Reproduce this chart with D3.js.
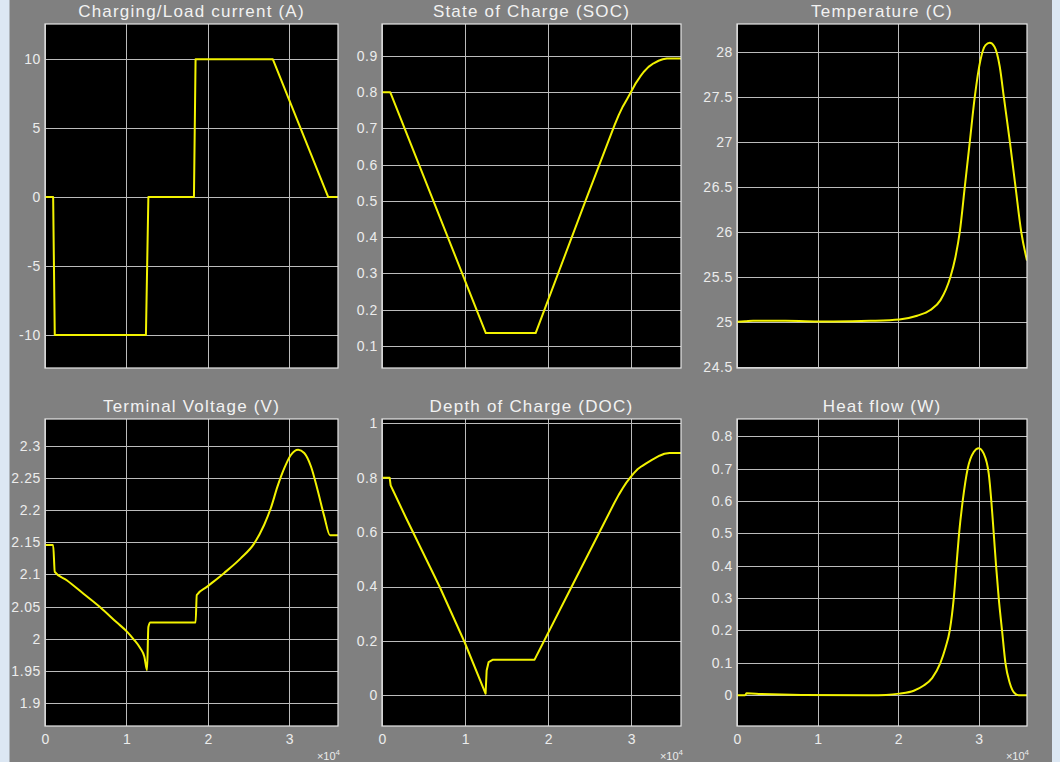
<!DOCTYPE html>
<html><head><meta charset="utf-8">
<script src="https://cdn.jsdelivr.net/npm/d3@7"></script>
<style>
html,body{margin:0;padding:0;background:#808080;overflow:hidden;}
svg{display:block;}
text{font-family:"Liberation Sans",Arial,Helvetica,sans-serif;}
</style></head><body>
<svg id="c" width="1060" height="762"></svg>
<script>
// ---- data (time in seconds) ----
const xTicks = [0, 10000, 20000, 30000];
const xTickLabels = ["0", "1", "2", "3"];
const xDomain = [0, 36000];

const titles = ["Charging/Load current (A)", "State of Charge (SOC)", "Temperature (C)",
                "Terminal Voltage (V)", "Depth of Charge (DOC)", "Heat flow (W)"];

const currentT = [0, 1000, 1200, 12400, 12700, 18300, 18500, 28000, 34800, 36000];
const currentA = [0, 0, -10, -10, 0, 0, 10, 10, 0, 0];
const currentTicks = [-10, -5, 0, 5, 10];
const currentLabels = ["-10", "-5", "0", "5", "10"];

const socT = [0, 1000, 12500, 18500, 24500, 28000, 28500, 29000, 29500, 29960, 30500, 31080, 31500,
              32090, 32700, 33300, 33800, 34300, 36000];
const socV = [0.8, 0.8, 0.135, 0.135, 0.5, 0.709, 0.737, 0.761, 0.781, 0.8, 0.823, 0.843, 0.856,
              0.870, 0.880, 0.887, 0.891, 0.893, 0.893];
const socTicks = [0.1, 0.2, 0.3, 0.4, 0.5, 0.6, 0.7, 0.8, 0.9];
const socLabels = ["0.1", "0.2", "0.3", "0.4", "0.5", "0.6", "0.7", "0.8", "0.9"];

const tempT = [0, 1000, 2000, 6000, 12000, 16560, 20160, 22360, 24010, 25260, 26500, 27120, 27660,
               28280, 28900, 29520, 30220, 30850, 31380, 31960, 32620, 33120, 33870, 34570, 35280, 36000];
const tempV = [25.0, 25.005, 25.012, 25.01, 25.003, 25.01, 25.026, 25.067, 25.13, 25.24, 25.5, 25.72, 26.0,
               26.5, 27.0, 27.5, 27.907, 28.074, 28.1, 28.056, 27.833, 27.5, 27.0, 26.5, 26.0, 25.68];
const tempTicks = [24.5, 25, 25.5, 26, 26.5, 27, 27.5, 28];
const tempLabels = ["24.5", "25", "25.5", "26", "26.5", "27", "27.5", "28"];

const voltT = [0, 1000, 1200, 2670, 4730, 6780, 8840, 10070, 10890, 11710, 12210, 12540, 12700, 12950,
               18500, 18650, 19930, 21990, 24040, 25690, 26920, 27740, 28570, 29390, 30210, 31110,
               31850, 32680, 33500, 34320, 35020, 36000];
const voltV = [2.146, 2.146, 2.104, 2.091, 2.070, 2.049, 2.025, 2.011, 1.999, 1.985, 1.972, 1.951, 2.018, 2.025,
               2.025, 2.068, 2.081, 2.102, 2.125, 2.148, 2.177, 2.203, 2.237, 2.265, 2.286, 2.294,
               2.289, 2.268, 2.231, 2.190, 2.161, 2.161];
const voltTicks = [1.9, 1.95, 2, 2.05, 2.1, 2.15, 2.2, 2.25, 2.3];
const voltLabels = ["1.9", "1.95", "2", "2.05", "2.1", "2.15", "2.2", "2.25", "2.3"];

const docT = [0, 920, 1040, 1320, 2930, 6940, 9950, 12470, 12600, 12840, 13360, 18370, 22800, 26300,
              28000, 28500, 29000, 29400, 29880, 30300, 30800, 31300, 31810, 32500, 33410, 34000, 34620, 36000];
const docV = [0.8, 0.8, 0.772, 0.754, 0.650, 0.399, 0.195, 0.006, 0.091, 0.122, 0.131, 0.131, 0.397, 0.607,
              0.709, 0.737, 0.762, 0.781, 0.8, 0.816, 0.832, 0.843, 0.853, 0.866, 0.881, 0.888, 0.891, 0.891];
const docTicks = [0, 0.2, 0.4, 0.6, 0.8, 1];
const docLabels = ["0", "0.2", "0.4", "0.6", "0.8", "1"];

const heatT = [0, 1000, 1200, 3000, 8000, 16560, 18500, 20160, 21940, 23180, 24220, 25250, 25870, 26410,
               26910, 27240, 27570, 28020, 28640, 29390, 30010, 30630, 31250, 31580, 31870, 32160,
               32490, 32900, 33320, 33860, 34440, 34980, 36000];
const heatV = [0, 0, 0.006, 0.004, 0.001, 0.0, 0.001, 0.005, 0.014, 0.030, 0.053, 0.1, 0.146, 0.2,
               0.3, 0.4, 0.5, 0.6, 0.7, 0.751, 0.763, 0.746, 0.684, 0.597, 0.5, 0.4,
               0.3, 0.2, 0.1, 0.038, 0.007, 0, 0];
const heatTicks = [0, 0.1, 0.2, 0.3, 0.4, 0.5, 0.6, 0.7, 0.8];
const heatLabels = ["0", "0.1", "0.2", "0.3", "0.4", "0.5", "0.6", "0.7", "0.8"];

// ---- layout ----
const cols = [[45, 338], [382, 681], [737, 1027]];
const rows = [[24, 368], [419, 726]];

const panels = [
  {t: currentT, v: currentA, yd: [-12.4, 12.56], ticks: currentTicks, labels: currentLabels, c: 0, r: 0, smooth: false},
  {t: socT, v: socV, yd: [0.0385, 0.9885], ticks: socTicks, labels: socLabels, c: 1, r: 0, smooth: false},
  {t: tempT, v: tempV, yd: [24.486, 28.308], ticks: tempTicks, labels: tempLabels, c: 2, r: 0, smooth: true},
  {t: voltT, v: voltV, yd: [1.864, 2.342], ticks: voltTicks, labels: voltLabels, c: 0, r: 1, smooth: true},
  {t: docT, v: docV, yd: [-0.113, 1.016], ticks: docTicks, labels: docLabels, c: 1, r: 1, smooth: false},
  {t: heatT, v: heatV, yd: [-0.095, 0.853], ticks: heatTicks, labels: heatLabels, c: 2, r: 1, smooth: true}
];

const svg = d3.select("#c");
svg.append("rect").attr("x", 0).attr("y", 0).attr("width", 1060).attr("height", 762).attr("fill", "#808080");
svg.append("rect").attr("x", 0).attr("y", 0).attr("width", 9.5).attr("height", 762).attr("fill", "#dce7f3");
svg.append("rect").attr("x", 1052).attr("y", 0).attr("width", 8).attr("height", 762).attr("fill", "#dce7f3");

const gridCol = "#bcbcbc", boxCol = "#e6e6e6", textCol = "#ececec", lineCol = "#f2f200";

panels.forEach((p, i) => {
  const [x0, x1] = cols[p.c], [y0, y1] = rows[p.r];
  const x = d3.scaleLinear().domain(xDomain).range([x0, x1]);
  const y = d3.scaleLinear().domain(p.yd).range([y1, y0]);
  const g = svg.append("g");

  g.append("rect").attr("x", x0).attr("y", y0).attr("width", x1 - x0).attr("height", y1 - y0).attr("fill", "#000");

  // grid
  const gx = g.append("g").attr("transform", `translate(0,${y1})`)
    .call(d3.axisBottom(x).tickValues(xTicks).tickSize(-(y1 - y0)).tickFormat(""));
  const gy = g.append("g").attr("transform", `translate(${x0},0)`)
    .call(d3.axisLeft(y).tickValues(p.ticks).tickSize(-(x1 - x0)).tickFormat(""));
  [gx, gy].forEach(a => {
    a.select(".domain").remove();
    a.selectAll(".tick line").attr("stroke", gridCol).attr("stroke-width", 1).attr("shape-rendering", "crispEdges");
  });

  // clipped line
  const cid = "clip" + i;
  svg.append("clipPath").attr("id", cid).append("rect")
    .attr("x", x0).attr("y", y0).attr("width", x1 - x0).attr("height", y1 - y0);
  const pts = p.t.map((t, k) => [t, p.v[k]]);
  const line = d3.line().x(d => x(d[0])).y(d => y(d[1]))
    .curve(p.smooth ? d3.curveMonotoneX : d3.curveLinear);
  g.append("path").attr("clip-path", `url(#${cid})`).attr("d", line(pts))
    .attr("fill", "none").attr("stroke", lineCol).attr("stroke-width", 2).attr("stroke-linejoin", "round");

  // box
  g.append("rect").attr("x", x0).attr("y", y0).attr("width", x1 - x0).attr("height", y1 - y0)
    .attr("fill", "none").attr("stroke", boxCol).attr("stroke-width", 1.2);

  // y tick labels
  const ay = g.append("g").attr("transform", `translate(${x0},0)`)
    .call(d3.axisLeft(y).tickValues(p.ticks).tickSize(0).tickPadding(4)
      .tickFormat((d, k) => p.labels[k]));
  ay.select(".domain").remove();
  ay.selectAll("text").attr("fill", textCol).attr("font-size", 14).style("letter-spacing", "0.6px")
    .attr("font-family", "'Liberation Sans', Arial, sans-serif");

  // x tick labels only for bottom row
  if (p.r === 1) {
    const ax = g.append("g").attr("transform", `translate(0,${y1})`)
      .call(d3.axisBottom(x).tickValues(xTicks).tickSize(0).tickPadding(8)
        .tickFormat((d, k) => xTickLabels[k]));
    ax.select(".domain").remove();
    ax.selectAll("text").attr("fill", textCol).attr("font-size", 14)
      .attr("font-family", "'Liberation Sans', Arial, sans-serif");
    const ex = g.append("text").attr("x", x1 + 2).attr("y", 760).attr("text-anchor", "end")
      .attr("fill", textCol).attr("font-size", 11);
    ex.append("tspan").text("\u00d710");
    ex.append("tspan").attr("dy", -5).attr("font-size", 8).text("4");
  }

  // title
  g.append("text").attr("x", (x0 + x1) / 2).attr("y", y0 - 7.5).attr("text-anchor", "middle")
    .attr("fill", "#f2f2f2").attr("font-size", 17).style("letter-spacing", "1.2px").text(titles[i]);
});
</script>
</body></html>
